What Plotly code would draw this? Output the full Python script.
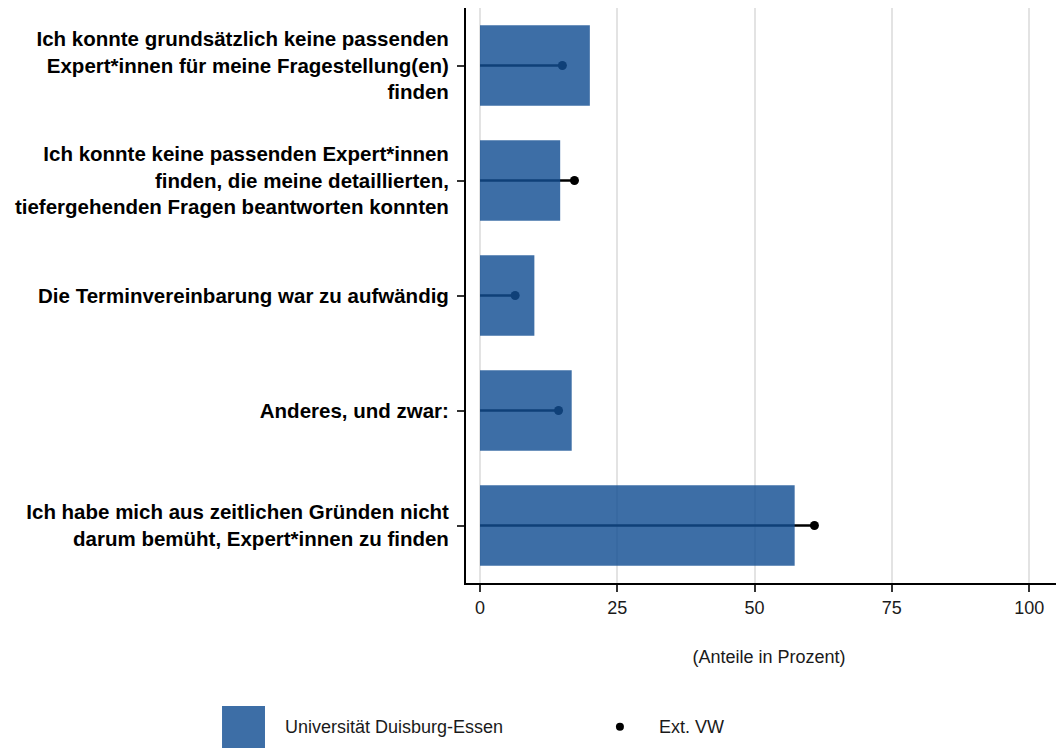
import plotly.graph_objects as go

categories = [
    "Ich konnte grundsätzlich keine passenden<br>Expert*innen für meine Fragestellung(en)<br>finden",
    "Ich konnte keine passenden Expert*innen<br>finden, die meine detaillierten,<br>tiefergehenden Fragen beantworten konnten",
    "Die Terminvereinbarung war zu aufwändig",
    "Anderes, und zwar:",
    "Ich habe mich aus zeitlichen Gründen nicht<br>darum bemüht, Expert*innen zu finden",
]
ude_values = [20.0, 14.6, 9.9, 16.7, 57.3]
ext_vw_values = [15.0, 17.2, 6.4, 14.3, 60.9]
x_ticks = [0, 25, 50, 75, 100]

series_names = ["Universität Duisburg-Essen", "Ext. VW"]

BAR_RGBA = "rgba(18,78,146,0.82)"
BAR_SOLID = "#3D6EA6"

fig = go.Figure()

# lollipop lines (drawn beneath the bars)
for cat, v in zip(categories, ext_vw_values):
    fig.add_trace(go.Scatter(
        x=[0, v], y=[cat, cat], mode="lines",
        line=dict(color="black", width=2.6),
        showlegend=False, hoverinfo="skip",
        xaxis="x", yaxis="y",
    ))
fig.add_trace(go.Scatter(
    x=ext_vw_values, y=categories, mode="markers",
    marker=dict(color="black", size=9),
    name=series_names[1], showlegend=False,
    xaxis="x", yaxis="y",
))

# bars on an overlaid axis so they sit on top of the lines
fig.add_trace(go.Bar(
    x=ude_values, y=categories, orientation="h",
    marker=dict(color=BAR_RGBA, line=dict(width=0)),
    width=0.7, name=series_names[0], showlegend=False,
    xaxis="x2", yaxis="y2",
))

xrange = [-2.55, 107.8]
yrange = [4.5, -0.5]

# legend (drawn as layout decorations to match the large key square)
legend_shapes = [
    dict(type="rect", xref="paper", yref="paper",
         x0=-0.4026, x1=-0.3317, y0=-0.287, y1=-0.214,
         fillcolor=BAR_SOLID, line=dict(width=0), layer="above"),
    dict(type="circle", xref="paper", yref="paper",
         xsizemode="pixel", ysizemode="pixel",
         xanchor=0.254, yanchor=-0.250,
         x0=-4, x1=4, y0=-4, y1=4,
         fillcolor="black", line=dict(width=0), layer="above"),
]
legend_annotations = [
    dict(text=series_names[0], xref="paper", yref="paper",
         x=-0.302, y=-0.250, xanchor="left", yanchor="middle",
         showarrow=False, font=dict(size=18, color="#1a1a1a")),
    dict(text=series_names[1], xref="paper", yref="paper",
         x=0.3152, y=-0.250, xanchor="left", yanchor="middle",
         showarrow=False, font=dict(size=18, color="#1a1a1a")),
]

fig.update_layout(
    width=1064, height=748,
    margin=dict(l=458, r=0, t=0, b=173, autoexpand=False),
    paper_bgcolor="white", plot_bgcolor="white",
    font=dict(family="Liberation Sans, Arial, sans-serif", color="black"),
    showlegend=False,
    xaxis=dict(
        range=xrange, tickvals=x_ticks, ticktext=[str(t) for t in x_ticks],
        showgrid=True, gridcolor="#E3E3E3", gridwidth=2,
        zeroline=False, automargin=False,
        showline=True, linecolor="black", linewidth=2,
        ticks="outside", ticklen=7, tickwidth=2, tickcolor="#333333",
        tickfont=dict(size=18, color="#1a1a1a"),
        title=dict(text="(Anteile in Prozent)", font=dict(size=18, color="#1a1a1a"), standoff=34),
        fixedrange=True,
    ),
    yaxis=dict(
        type="category", categoryorder="array", categoryarray=categories,
        range=yrange, showgrid=False, zeroline=False, automargin=False,
        showline=True, linecolor="black", linewidth=2,
        ticks="outside", ticklen=7, tickwidth=2, tickcolor="#333333",
        tickfont=dict(size=20.5, color="black", weight="bold"),
        ticklabelstandoff=4,
    ),
    xaxis2=dict(overlaying="x", matches="x", range=xrange, visible=False),
    yaxis2=dict(overlaying="y", matches="y", type="category",
                categoryorder="array", categoryarray=categories,
                range=yrange, visible=False),
    shapes=legend_shapes,
    annotations=legend_annotations,
    bargap=0.3,
)

fig.write_html("out.html")
